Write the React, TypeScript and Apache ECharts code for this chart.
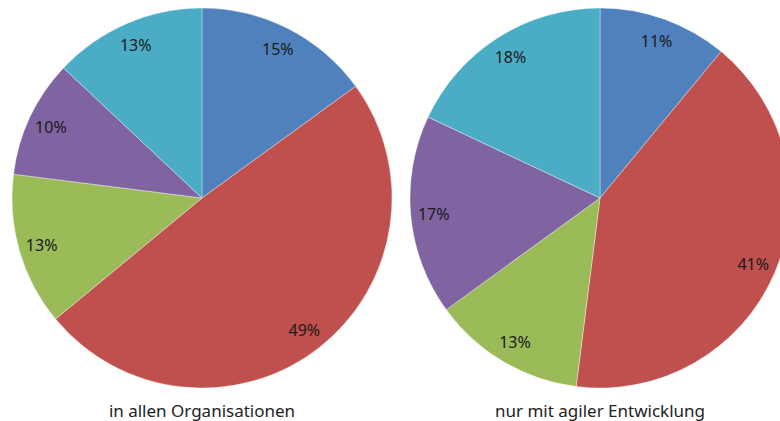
import React, { useEffect, useRef } from "react";
import * as echarts from "echarts";

const categories = ["A", "B", "C", "D", "E"];
const valuesAll = [15, 49, 13, 10, 13];
const valuesAgile = [11, 41, 13, 17, 18];
const captions = ["in allen Organisationen", "nur mit agiler Entwicklung"];
const colors = ["#4F81BD", "#C0504D", "#9BBB59", "#8064A2", "#4BACC6"];

export default function App() {
  const ref = useRef<HTMLDivElement>(null);
  useEffect(() => {
    if (!ref.current) return;
    const chart = echarts.init(ref.current, undefined, { renderer: "svg" });
    const mk = (vals: number[]) => categories.map((c, i) => ({ name: c, value: vals[i] }));
    const centers: [number, number][] = [[202, 198], [600, 198]];
    const sets = [valuesAll, valuesAgile];
    const series: any[] = [];
    sets.forEach((vals, k) => {
      series.push({
        type: "pie",
        center: centers[k],
        radius: [0, 190],
        startAngle: 90,
        clockwise: true,
        silent: true,
        label: { show: false },
        labelLine: { show: false },
        itemStyle: { borderColor: "rgba(255,255,255,0.6)", borderWidth: 0.6 },
        data: mk(vals),
      });
      series.push({
        type: "pie",
        center: centers[k],
        radius: [138, 190],
        startAngle: 90,
        clockwise: true,
        silent: true,
        itemStyle: { color: "rgba(0,0,0,0)" },
        label: {
          show: true,
          position: "inside",
          formatter: "{c}%",
          color: "#1a1a1a",
          fontSize: 16,
          fontFamily: "'Noto Sans', sans-serif",
        },
        labelLine: { show: false },
        data: mk(vals),
      });
    });
    chart.setOption({
      animation: false,
      color: colors,
      series,
      graphic: captions.map((t, i) => ({
        type: "text",
        x: centers[i][0],
        y: 410,
        style: {
          text: t,
          fill: "#222",
          fontSize: 17,
          fontFamily: "'Noto Sans', sans-serif",
          textAlign: "center",
          textVerticalAlign: "middle",
        },
      })),
    });
    return () => chart.dispose();
  }, []);
  return (
    <div
      ref={ref}
      style={{ position: "fixed", left: 0, top: 0, width: 780, height: 421, background: "#fff" }}
    />
  );
}
